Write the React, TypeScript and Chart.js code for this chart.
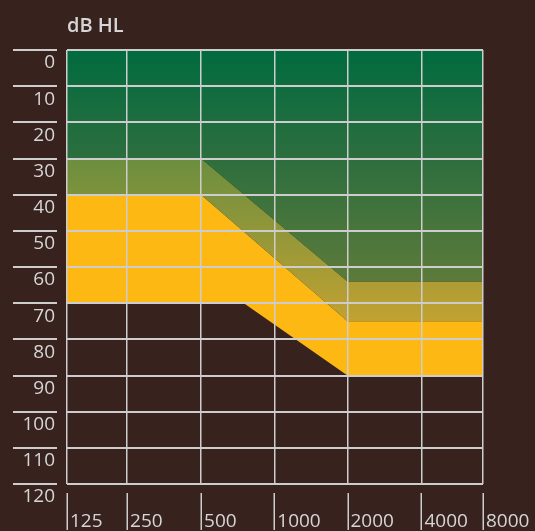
import React, { useEffect, useRef } from 'react';
import { Chart, registerables } from 'chart.js';

Chart.register(...registerables);

// ---- data ----
const freqLabels = ['125', '250', '500', '1000', '2000', '4000', '8000'];
const freqValues = [125, 250, 500, 1000, 2000, 4000, 8000];
// where each frequency sits on the (hand drawn) horizontal axis
const freqAxisPos = [0, 0.82, 1.83, 2.83, 3.83, 4.84, 5.68];
const dbTicks = [0, 10, 20, 30, 40, 50, 60, 70, 80, 90, 100, 110, 120];

// lower edge of green zone
const greenEdgeFreq = [125, 500, 2000, 8000];
const greenEdgeDb = [30, 30, 64, 64];
// lower edge of olive transition band
const bandEdgeFreq = [125, 500, 2000, 8000];
const bandEdgeDb = [40, 40, 75, 75];
// lower edge of yellow zone
const yellowEdgeFreq = [125, 750, 2000, 8000];
const yellowEdgeDb = [70, 70, 90, 90];

const BROWN = '#37221e';
const GRID = '#cdcdcd';
const TEXT = '#d6d6d6';
const FONT = '"Open Sans", "Noto Sans", sans-serif';

function freqToPos(f: number): number {
  for (let i = 0; i < freqValues.length - 1; i++) {
    const a = freqValues[i];
    const b = freqValues[i + 1];
    if (f >= a && f <= b) {
      const t = Math.log(f / a) / Math.log(b / a);
      return freqAxisPos[i] + t * (freqAxisPos[i + 1] - freqAxisPos[i]);
    }
  }
  return freqAxisPos[freqAxisPos.length - 1];
}

function toPoints(fs: number[], dbs: number[]) {
  return fs.map((f, i) => ({ x: freqToPos(f), y: dbs[i] }));
}

function vGradient(chart: any, v0: number, v1: number, stops: [number, string][]) {
  const { ctx, chartArea, scales } = chart;
  if (!chartArea) return 'rgba(0,0,0,0)';
  const y = scales.y;
  const g = ctx.createLinearGradient(0, y.getPixelForValue(v0), 0, y.getPixelForValue(v1));
  stops.forEach(([o, c]) => g.addColorStop(o, c));
  return g;
}

const decorPlugin = {
  id: 'decor',
  beforeDraw(chart: any) {
    const { ctx, width, height } = chart;
    ctx.save();
    ctx.fillStyle = BROWN;
    ctx.fillRect(0, 0, width, height);
    ctx.restore();
  },
  afterDraw(chart: any) {
    const { ctx, chartArea, scales } = chart;
    const x = scales.x;
    const y = scales.y;
    ctx.save();
    ctx.strokeStyle = GRID;
    ctx.lineWidth = 2;
    y.ticks.forEach((t: any) => {
      const py = Math.round(y.getPixelForValue(t.value));
      ctx.beginPath();
      ctx.moveTo(y.left + 13, py);
      ctx.lineTo(chartArea.left - 10, py);
      ctx.stroke();
    });
    ctx.lineWidth = 1.5;
    x.ticks.forEach((t: any) => {
      const px = Math.round(x.getPixelForValue(t.value)) + 0.25;
      ctx.beginPath();
      ctx.moveTo(px, chartArea.bottom + 9);
      ctx.lineTo(px, chartArea.bottom + 46);
      ctx.stroke();
    });
    ctx.fillStyle = TEXT;
    ctx.font = '600 20px ' + FONT;
    ctx.textAlign = 'left';
    ctx.textBaseline = 'alphabetic';
    ctx.fillText('dB HL', chartArea.left, 32);
    ctx.restore();
  },
};

export default function App() {
  const ref = useRef<HTMLCanvasElement | null>(null);

  useEffect(() => {
    document.body.style.margin = '0';
    document.body.style.background = BROWN;
    const canvas = ref.current;
    if (!canvas) return;
    const chart = new Chart(canvas, {
      type: 'line',
      data: {
        datasets: [
          {
            label: 'green',
            data: toPoints(greenEdgeFreq, greenEdgeDb),
            borderWidth: 0,
            pointRadius: 0,
            tension: 0,
            fill: { value: 0 },
            backgroundColor: (c: any) =>
              vGradient(c.chart, 0, 65, [
                [0, '#006b3f'],
                [0.45, '#2c6e3e'],
                [1, '#5e7b3a'],
              ]),
          },
          {
            label: 'band',
            data: toPoints(bandEdgeFreq, bandEdgeDb),
            borderWidth: 0,
            pointRadius: 0,
            tension: 0,
            fill: '-1',
            backgroundColor: (c: any) =>
              vGradient(c.chart, 30, 76, [
                [0, '#6b8e3f'],
                [1, '#c4a231'],
              ]),
          },
          {
            label: 'yellow',
            data: toPoints(yellowEdgeFreq, yellowEdgeDb),
            borderWidth: 0,
            pointRadius: 0,
            tension: 0,
            fill: '-1',
            backgroundColor: '#fdb813',
          },
        ],
      },
      options: {
        animation: false,
        responsive: false,
        maintainAspectRatio: false,
        parsing: false as any,
        layout: { padding: { left: 0, top: 50, right: 52, bottom: 0 } },
        plugins: {
          legend: { display: false },
          tooltip: { enabled: false },
          title: { display: false },
        },
        scales: {
          x: {
            type: 'linear',
            min: freqAxisPos[0],
            max: freqAxisPos[freqAxisPos.length - 1],
            afterBuildTicks: (s: any) => {
              s.ticks = freqAxisPos.map((v) => ({ value: v }));
            },
            afterFit: (s: any) => {
              s.height = 47;
              s.paddingLeft = 0;
              s.paddingRight = 0;
              s.paddingTop = 0;
              s.paddingBottom = 0;
            },
            border: { display: false },
            grid: { color: GRID, lineWidth: 1.5, drawTicks: false, z: 1 },
            ticks: {
              autoSkip: false,
              maxRotation: 0,
              align: 'start',
              labelOffset: 3,
              padding: 26,
              color: TEXT,
              font: { family: FONT, size: 19 },
              callback: (_v: any, i: number) => freqLabels[i],
            },
          },
          y: {
            type: 'linear',
            reverse: true,
            min: dbTicks[0],
            max: dbTicks[dbTicks.length - 1],
            afterBuildTicks: (s: any) => {
              s.ticks = dbTicks.map((v) => ({ value: v }));
            },
            afterFit: (s: any) => {
              s.width = 67;
              s.paddingLeft = 0;
              s.paddingRight = 0;
              s.paddingTop = 0;
              s.paddingBottom = 0;
            },
            border: { display: false },
            grid: { color: GRID, lineWidth: 2, drawTicks: false, z: 1 },
            ticks: {
              autoSkip: false,
              padding: 12,
              labelOffset: 13,
              color: TEXT,
              font: { family: FONT, size: 19 },
              callback: (v: any) => String(v),
            },
          },
        },
      },
      plugins: [decorPlugin],
    } as any);
    return () => chart.destroy();
  }, []);

  return (
    <div style={{ width: 535, height: 531, background: BROWN }}>
      <canvas ref={ref} width={535} height={531} style={{ display: 'block', width: 535, height: 531 }} />
    </div>
  );
}
